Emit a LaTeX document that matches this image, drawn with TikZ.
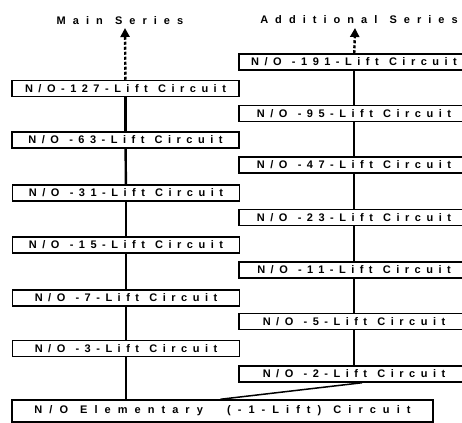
\documentclass[tikz,border=0pt]{standalone}
\usepackage{fontspec}
\setmainfont{Liberation Sans}
\newfontfamily\spacedfont[LetterSpace=50, WordSpace=1.2]{Liberation Sans}
\newfontfamily\widefont[LetterSpace=64, WordSpace=1.2]{Liberation Sans}
\usetikzlibrary{arrows.meta, positioning}
\tikzset{
    liftbox/.style={rectangle, draw=black, line width=1.5pt, inner sep=0pt,
                    minimum height=16pt, font=\spacedfont\bfseries\fontsize{11}{12}\selectfont},
    mainbox/.style={liftbox, minimum width=227pt},
    addbox/.style={liftbox, minimum width=230pt},
    elembox/.style={liftbox, minimum width=421pt, minimum height=22pt,
                    font=\widefont\bfseries\fontsize{11}{12}\selectfont},
    link/.style={line width=2.4pt, draw=black},
    growth/.style={-{Triangle[length=9pt, width=9pt]}, line width=2.4pt, densely dashed},
    serieslbl/.style={font=\widefont\bfseries\fontsize{11}{12}\selectfont},
}

\begin{document}
\begin{tikzpicture}[x=1pt, y=-1pt]
    \useasboundingbox (0,0) rectangle (462,422);
    % series titles
    \node[serieslbl] (mainlbl) at (120,21) {Main Series};
    \node[serieslbl] (addlbl) at (359,20) {Additional Series};
    \coordinate (maintip) at (125,28);
    \coordinate (addtip) at (355,28);
    % main series
    \node[mainbox] (m127) at (125.5,88.5) {N/O-127-Lift Circuit};
    \node[mainbox] (m63) at (125.5,140) {N/O -63-Lift Circuit};
    \node[mainbox] (m31) at (126,193) {N/O -31-Lift Circuit};
    \node[mainbox] (m15) at (126,245) {N/O -15-Lift Circuit};
    \node[mainbox] (m7) at (126,298) {N/O -7-Lift Circuit};
    \node[mainbox] (m3) at (126,348.5) {N/O -3-Lift Circuit};
    % additional series
    \node[addbox] (a191) at (354,62) {N/O -191-Lift Circuit};
    \node[addbox] (a95) at (354,113.5) {N/O -95-Lift Circuit};
    \node[addbox] (a47) at (354,165) {N/O -47-Lift Circuit};
    \node[addbox] (a23) at (354,217.5) {N/O -23-Lift Circuit};
    \node[addbox] (a11) at (354,270) {N/O -11-Lift Circuit};
    \node[addbox] (a5) at (354,321.5) {N/O -5-Lift Circuit};
    \node[addbox] (a2) at (354,374) {N/O -2-Lift Circuit};
    % elementary circuit
    \node[elembox] (elem) at (222.5,411) {N/O Elementary\ \ (-1-Lift) Circuit};
    \draw[growth] (m127) -- (maintip);
    \draw[growth] (a191) -- (addtip);
    \draw[link] (m127) -- (m63);
    \draw[link] (m63) -- (m31);
    \draw[link] (m31) -- (m15);
    \draw[link] (m15) -- (m7);
    \draw[link] (m7) -- (m3);
    \draw[link] (m3) -- (m3 |- elem.north);
    \draw[link] (a191) -- (a95);
    \draw[link] (a95) -- (a47);
    \draw[link] (a47) -- (a23);
    \draw[link] (a23) -- (a11);
    \draw[link] (a11) -- (a5);
    \draw[link] (a5) -- (a2);
    \draw[line width=1.5pt] ([xshift=8pt]a2.south) -- ([xshift=-2pt]elem.north);
\end{tikzpicture}
\end{document}
